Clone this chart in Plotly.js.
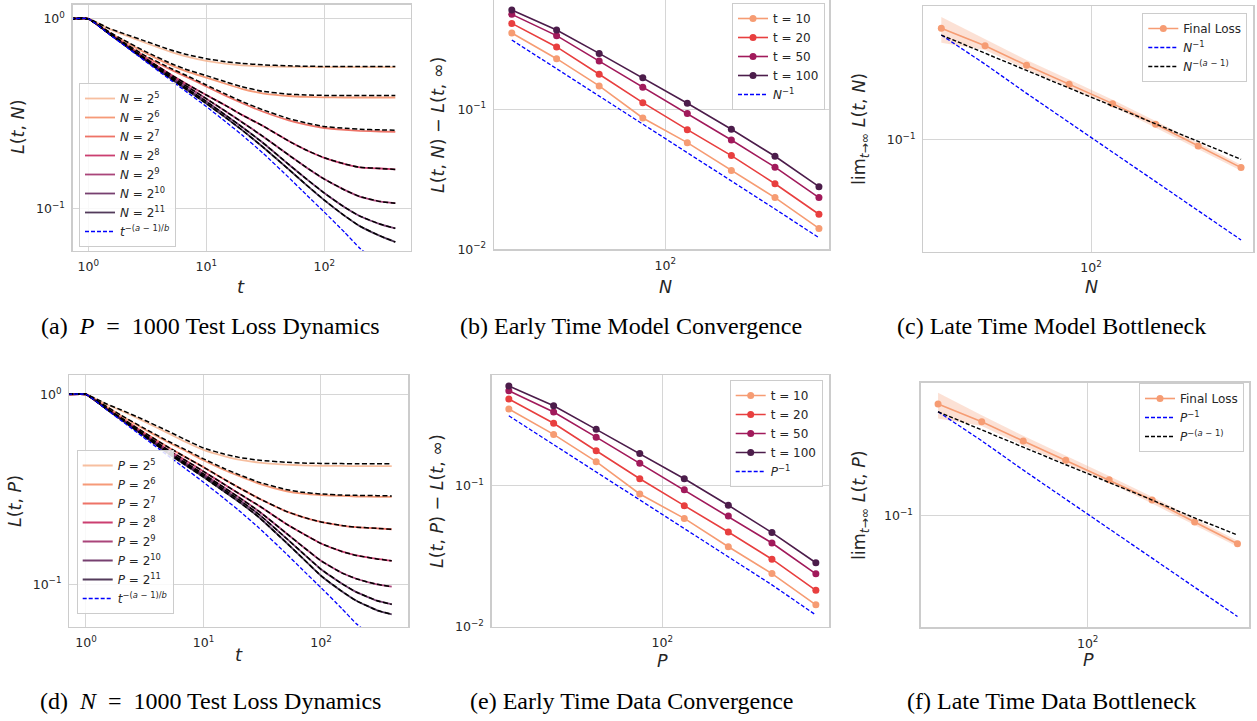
<!DOCTYPE html>
<html>
<head>
<meta charset="utf-8">
<script src="https://cdn.plot.ly/plotly-3.0.1.min.js"></script>
<style>html,body{margin:0;padding:0;background:#fff;}#chart{width:1257px;height:721px;}</style>
</head>
<body>
<div id="chart"></div>
<script>
// ---------------- DATA ----------------
// Panels (a)/(d): time grid
const tGrid = [0.7, 1, 1.5, 2, 3, 5, 7, 10, 15, 20, 30, 50, 70, 100, 150, 200, 300, 400];
const sizeLabels = ['5', '6', '7', '8', '9', '10', '11'];

// (a) P = 1000, varying N : simulated loss
const lossA_N5  = [1,1,0.885,0.825,0.75,0.67,0.63,0.6,0.578,0.568,0.561,0.558,0.557,0.557,0.557,0.557,0.557,0.557];
const lossA_N6  = [1,1,0.85,0.765,0.665,0.57,0.525,0.49,0.452,0.428,0.405,0.392,0.388,0.386,0.385,0.385,0.385,0.385];
const lossA_N7  = [1,1,0.842,0.745,0.635,0.54,0.49,0.44,0.39,0.36,0.325,0.292,0.277,0.266,0.26,0.257,0.255,0.254];
const lossA_N8  = [1,1,0.838,0.739,0.623,0.508,0.449,0.397,0.346,0.312,0.2735,0.227,0.2037,0.1854,0.1718,0.1652,0.1628,0.161];
const lossA_N9  = [1,1,0.836,0.736,0.617,0.4985,0.437,0.3795,0.322,0.286,0.241,0.1916,0.1655,0.1432,0.1252,0.1158,0.109,0.1069];
const lossA_N10 = [1,1,0.835,0.734,0.612,0.491,0.426,0.367,0.307,0.27,0.223,0.171,0.144,0.121,0.1015,0.0915,0.0828,0.0788];
const lossA_N11 = [1,1,0.834,0.732,0.608,0.484,0.418,0.358,0.298,0.26,0.212,0.161,0.134,0.111,0.0914,0.081,0.0717,0.0668];
// (a) theory curves (black dashed)
const theoryA_N5  = [1,1,0.89,0.835,0.765,0.685,0.646,0.616,0.593,0.582,0.572,0.565,0.562,0.561,0.56,0.56,0.56,0.56];
const theoryA_N6  = [1,1,0.853,0.772,0.676,0.582,0.537,0.502,0.463,0.439,0.415,0.401,0.397,0.395,0.394,0.394,0.394,0.394];
const theoryA_N7  = [1,1,0.845,0.75,0.642,0.548,0.498,0.448,0.398,0.367,0.332,0.298,0.283,0.271,0.265,0.262,0.26,0.259];
const theoryA_N8  = [1,1,0.838,0.739,0.623,0.508,0.449,0.397,0.346,0.312,0.2735,0.227,0.2037,0.1854,0.1718,0.1652,0.1628,0.161];
const theoryA_N9  = [1,1,0.836,0.736,0.617,0.4985,0.437,0.3795,0.322,0.286,0.241,0.1916,0.1655,0.1432,0.1252,0.1158,0.109,0.1069];
const theoryA_N10 = [1,1,0.835,0.734,0.612,0.491,0.426,0.367,0.307,0.27,0.223,0.171,0.144,0.121,0.1015,0.0915,0.0828,0.0788];
const theoryA_N11 = [1,1,0.834,0.732,0.608,0.484,0.418,0.358,0.298,0.26,0.212,0.161,0.134,0.111,0.0914,0.081,0.0717,0.0668];
// power law t^{-(a-1)/b} (blue dashed)
const powerT = [1,1,0.83,0.727,0.602,0.475,0.407,0.345,0.283,0.245,0.197,0.146,0.119,0.096,0.0747,0.062,0.0507,0.0412];

// (d) N = 1000, varying P
const lossD_P5  = [1,1,0.885,0.82,0.73,0.625,0.563,0.51,0.473,0.453,0.437,0.427,0.423,0.421,0.42,0.419,0.419,0.419];
const lossD_P6  = [1,1,0.86,0.77,0.665,0.56,0.505,0.45,0.4,0.372,0.338,0.31,0.3,0.295,0.292,0.29,0.289,0.289];
const lossD_P7  = [1,1,0.846,0.752,0.64,0.527,0.468,0.414,0.357,0.323,0.282,0.243,0.226,0.213,0.204,0.2,0.197,0.195];
const lossD_P8  = [1,1,0.84,0.744,0.628,0.51,0.45,0.393,0.336,0.301,0.258,0.209,0.185,0.164,0.149,0.142,0.136,0.133];
const lossD_P9  = [1,1,0.838,0.741,0.622,0.5,0.438,0.381,0.323,0.287,0.241,0.187,0.158,0.133,0.115,0.107,0.1,0.0972];
const lossD_P10 = [1,1,0.837,0.738,0.618,0.494,0.431,0.374,0.315,0.279,0.232,0.176,0.146,0.12,0.101,0.091,0.082,0.0785];
const lossD_P11 = [1,1,0.836,0.736,0.614,0.489,0.425,0.367,0.308,0.272,0.224,0.167,0.137,0.111,0.092,0.082,0.073,0.0695];
const theoryD_P5  = [1,1,0.89,0.828,0.742,0.64,0.578,0.522,0.485,0.466,0.45,0.439,0.435,0.433,0.432,0.431,0.431,0.431];
const theoryD_P6  = [1,1,0.863,0.775,0.672,0.567,0.512,0.458,0.407,0.378,0.344,0.316,0.305,0.299,0.295,0.294,0.293,0.292];
const theoryD_P7  = [1,1,0.846,0.752,0.64,0.527,0.468,0.414,0.357,0.323,0.282,0.243,0.226,0.213,0.204,0.2,0.197,0.195];
const theoryD_P8  = [1,1,0.84,0.744,0.628,0.51,0.45,0.393,0.336,0.301,0.258,0.209,0.185,0.164,0.149,0.142,0.136,0.133];
const theoryD_P9  = [1,1,0.838,0.741,0.622,0.5,0.438,0.381,0.323,0.287,0.241,0.187,0.158,0.133,0.115,0.107,0.1,0.0972];
const theoryD_P10 = [1,1,0.837,0.738,0.618,0.494,0.431,0.374,0.315,0.279,0.232,0.176,0.146,0.12,0.101,0.091,0.082,0.0785];
const theoryD_P11 = [1,1,0.836,0.736,0.614,0.489,0.425,0.367,0.308,0.272,0.224,0.167,0.137,0.111,0.092,0.082,0.073,0.0695];

// Panels (b),(c),(e),(f): model / data sizes
const sizes = [20, 32, 50, 79, 126, 200, 316, 501];
const timeLabels = ['10', '20', '50', '100'];
// (b) L(t,N) - L(t,inf)
const gapB_t10  = [0.351,0.230,0.147,0.0867,0.0578,0.0365,0.0234,0.0141];
const gapB_t20  = [0.411,0.279,0.178,0.1116,0.0716,0.0467,0.0294,0.0178];
const gapB_t50  = [0.477,0.336,0.221,0.1436,0.0932,0.0604,0.0386,0.0234];
const gapB_t100 = [0.513,0.369,0.251,0.168,0.1104,0.0720,0.0462,0.0280];
const invB      = [0.313,0.195,0.124,0.078,0.049,0.031,0.0194,0.0121];
// (e) L(t,P) - L(t,inf)
const gapE_t10  = [0.350,0.231,0.148,0.0873,0.0586,0.0369,0.0238,0.0143];
const gapE_t20  = [0.412,0.277,0.177,0.112,0.0722,0.0469,0.0301,0.0181];
const gapE_t50  = [0.472,0.333,0.221,0.144,0.0937,0.0610,0.0392,0.0237];
const gapE_t100 = [0.509,0.369,0.251,0.169,0.112,0.0726,0.0465,0.0284];
const invE      = [0.313,0.196,0.125,0.079,0.0496,0.0313,0.0198,0.0121];
// (c) final loss vs N
const finalC    = [0.578,0.440,0.323,0.240,0.177,0.128,0.091,0.0648];
const finalC_hi = [0.69,0.486,0.351,0.259,0.188,0.135,0.0959,0.0679];
const finalC_lo = [0.46,0.411,0.303,0.228,0.169,0.121,0.0864,0.0618];
const invC      = [0.52,0.329,0.208,0.132,0.0826,0.052,0.0329,0.0208];
const powC      = [0.52,0.393,0.298,0.226,0.171,0.129,0.0977,0.0738];
// (f) final loss vs P
const finalF    = [0.580,0.438,0.324,0.239,0.176,0.128,0.0906,0.0644];
const finalF_hi = [0.692,0.485,0.352,0.258,0.187,0.135,0.0955,0.0676];
const finalF_lo = [0.462,0.41,0.302,0.227,0.168,0.121,0.086,0.0615];
const invF      = [0.513,0.325,0.205,0.130,0.0815,0.0513,0.0325,0.0205];
const powF      = [0.513,0.388,0.294,0.223,0.169,0.128,0.0966,0.0738];

// ---------------- STYLE ----------------
const W = 1257, H = 721;
const FONT = 'DejaVu Sans';
const TXT = '#262626';
const sizeColors = ['#f6b48f', '#f58860', '#eb5a4c', '#c21d57', '#9b2563', '#5f1f57', '#35193e'];
const timeColors = ['#f69c73', '#e83f3f', '#a11a5b', '#4c1d4b'];
const lossColor = '#f69c73';

function xd(l, r) { return [l / W, r / W]; }
function yd(t, b) { return [1 - b / H, 1 - t / H]; }

function axis(domain, range, vals, texts, anchor) {
  return {
    type: 'log', domain: domain, range: range, anchor: anchor,
    tickvals: vals, ticktext: texts,
    showgrid: true, gridcolor: '#d6d6d6', gridwidth: 1,
    showline: true, mirror: true, linecolor: '#cccccc', linewidth: 1.3,
    zeroline: false, ticks: 'outside', ticklen: 4, tickcolor: 'rgba(0,0,0,0)',
    tickfont: { family: FONT, size: 12.5, color: TXT }, fixedrange: true
  };
}
const e0 = '10<sup>0</sup>', e1 = '10<sup>1</sup>', e2 = '10<sup>2</sup>', em1 = '10<sup>\u22121</sup>', em2 = '10<sup>\u22122</sup>';

const traces = [];
// ---- (a) and (d)
function dynamicsPanel(xa, ya, leg, letter, lossSets, theorySets) {
  lossSets.forEach((ys, i) => {
    traces.push({ x: tGrid, y: ys, xaxis: xa, yaxis: ya, legend: leg, mode: 'lines',
      name: '<i>' + letter + '</i> = 2<sup>' + sizeLabels[i] + '</sup>',
      line: { color: sizeColors[i], width: 1.8, shape: 'spline', smoothing: 0.4 }, opacity: 0.85 });
  });
  theorySets.forEach((ys) => {
    traces.push({ x: tGrid, y: ys, xaxis: xa, yaxis: ya, legend: leg, mode: 'lines', showlegend: false,
      line: { color: '#000000', width: 1.5, dash: '5px,2.5px', shape: 'spline', smoothing: 0.4 } });
  });
  traces.push({ x: tGrid, y: powerT, xaxis: xa, yaxis: ya, legend: leg, mode: 'lines',
    name: '<i>t</i><sup>\u2212(<i>a</i> \u2212 1)/<i>b</i></sup>',
    line: { color: '#0000ff', width: 1.3, dash: '4px,2px', shape: 'spline', smoothing: 0.4 } });
}
dynamicsPanel('x', 'y', 'legend', 'N',
  [lossA_N5, lossA_N6, lossA_N7, lossA_N8, lossA_N9, lossA_N10, lossA_N11],
  [theoryA_N5, theoryA_N6, theoryA_N7, theoryA_N8, theoryA_N9, theoryA_N10, theoryA_N11]);
dynamicsPanel('x4', 'y4', 'legend4', 'P',
  [lossD_P5, lossD_P6, lossD_P7, lossD_P8, lossD_P9, lossD_P10, lossD_P11],
  [theoryD_P5, theoryD_P6, theoryD_P7, theoryD_P8, theoryD_P9, theoryD_P10, theoryD_P11]);

// ---- (b) and (e)
function gapPanel(xa, ya, leg, letter, sets, inv) {
  sets.forEach((ys, i) => {
    traces.push({ x: sizes, y: ys, xaxis: xa, yaxis: ya, legend: leg, mode: 'lines+markers',
      name: 't = ' + timeLabels[i],
      line: { color: timeColors[i], width: 1.6 }, marker: { color: timeColors[i], size: 7 } });
  });
  traces.push({ x: sizes, y: inv, xaxis: xa, yaxis: ya, legend: leg, mode: 'lines',
    name: '<i>' + letter + '</i><sup>\u22121</sup>',
    line: { color: '#0000ff', width: 1.3, dash: '4px,2px' } });
}
gapPanel('x2', 'y2', 'legend2', 'N', [gapB_t10, gapB_t20, gapB_t50, gapB_t100], invB);
gapPanel('x5', 'y5', 'legend5', 'P', [gapE_t10, gapE_t20, gapE_t50, gapE_t100], invE);

// ---- (c) and (f)
function finalPanel(xa, ya, leg, letter, mid, hi, lo, inv, pw) {
  traces.push({ x: sizes, y: hi, xaxis: xa, yaxis: ya, legend: leg, mode: 'lines', showlegend: false,
    line: { width: 0, color: 'rgba(0,0,0,0)' } });
  traces.push({ x: sizes, y: lo, xaxis: xa, yaxis: ya, legend: leg, mode: 'lines', showlegend: false,
    fill: 'tonexty', fillcolor: 'rgba(246,156,115,0.3)', line: { width: 0, color: 'rgba(0,0,0,0)' } });
  traces.push({ x: sizes, y: mid, xaxis: xa, yaxis: ya, legend: leg, mode: 'lines+markers', name: 'Final Loss',
    line: { color: lossColor, width: 1.6 }, marker: { color: lossColor, size: 7 } });
  traces.push({ x: sizes, y: inv, xaxis: xa, yaxis: ya, legend: leg, mode: 'lines',
    name: '<i>' + letter + '</i><sup>\u22121</sup>', line: { color: '#0000ff', width: 1.3, dash: '4px,2px' } });
  traces.push({ x: sizes, y: pw, xaxis: xa, yaxis: ya, legend: leg, mode: 'lines',
    name: '<i>' + letter + '</i><sup>\u2212(<i>a</i> \u2212 1)</sup>', line: { color: '#000000', width: 1.4, dash: '4px,2px' } });
}
finalPanel('x3', 'y3', 'legend3', 'N', finalC, finalC_hi, finalC_lo, invC, powC);
finalPanel('x6', 'y6', 'legend6', 'P', finalF, finalF_hi, finalF_lo, invF, powF);

// ---------------- LAYOUT ----------------
function legendBox(x, y, xanchor) {
  return { x: x, y: y, xanchor: xanchor, yanchor: 'top', xref: 'paper', yref: 'paper',
    bgcolor: 'rgba(255,255,255,0.85)', bordercolor: '#cccccc', borderwidth: 1,
    font: { family: FONT, size: 12, color: TXT }, tracegroupgap: 0, itemwidth: 30, traceorder: 'normal' };
}
function label(text, x, y, size, angle, family, color) {
  return { text: text, x: x / W, y: 1 - y / H, xref: 'paper', yref: 'paper', showarrow: false,
    xanchor: 'center', yanchor: 'middle', textangle: angle || 0,
    font: { family: family || FONT, size: size, color: color || TXT } };
}
const S2 = '\u00a0\u00a0';
const CAP = 'Liberation Serif';
const CAPSIZE = 24;

const layout = {
  width: W, height: H, margin: { l: 0, r: 0, t: 0, b: 0 },
  paper_bgcolor: '#ffffff', plot_bgcolor: '#ffffff', showlegend: true,
  xaxis:  axis(xd(72.7, 411), [-0.132, 2.735], [1, 10, 100], [e0, e1, e2], 'y'),
  yaxis:  axis(yd(4.5, 250.7), [-1.221, 0.075], [0.1, 1], [em1, e0], 'x'),
  xaxis2: axis(xd(494, 829.3), [1.22, 2.747], [100], [e2], 'y2'),
  yaxis2: axis(yd(0, 249.3), [-2.0, -0.219], [0.01, 0.1], [em2, em1], 'x2'),
  xaxis3: axis(xd(923.3, 1253.3), [1.217, 2.757], [100], [e2], 'y3'),
  yaxis3: axis(yd(6, 251.7), [-1.762, -0.086], [0.1], [em1], 'x3'),
  xaxis4: axis(xd(69.3, 408.3), [-0.142, 2.743], [1, 10, 100], [e0, e1, e2], 'y4'),
  yaxis4: axis(yd(375, 626.7), [-1.223, 0.102], [0.1, 1], [em1, e0], 'x4'),
  xaxis5: axis(xd(491.7, 829.3), [1.223, 2.761], [100], [e2], 'y5'),
  yaxis5: axis(yd(375, 626.7), [-2.0, -0.215], [0.01, 0.1], [em2, em1], 'x5'),
  xaxis6: axis(xd(920.7, 1249.3), [1.22, 2.755], [100], [e2], 'y6'),
  yaxis6: axis(yd(382.7, 627.3), [-1.762, -0.0915], [0.1], [em1], 'x6'),
  legend:  legendBox(79 / W, 1 - 83 / H, 'left'),
  legend2: legendBox(825 / W, 1 - 3 / H, 'right'),
  legend3: legendBox(1247.3 / W, 1 - 13 / H, 'right'),
  legend4: legendBox(76.7 / W, 1 - 450 / H, 'left'),
  legend5: legendBox(822.7 / W, 1 - 380 / H, 'right'),
  legend6: legendBox(1244 / W, 1 - 383 / H, 'right'),
  annotations: [
    label('<i>L</i>(<i>t</i>, <i>N</i>)', 18, 127, 17.5, -90),
    label('<i>t</i>', 241, 286, 18),
    label('<i>L</i>(<i>t</i>, <i>N</i>) \u2212 <i>L</i>(<i>t</i>, \u221e)', 438, 125, 17.5, -90),
    label('<i>N</i>', 665, 287, 17.5),
    label('lim<sub><i>t</i>\u2192\u221e</sub> <i>L</i>(<i>t</i>, <i>N</i>)', 860, 129, 17.5, -90),
    label('<i>N</i>', 1091, 287, 17.5),
    label('<i>L</i>(<i>t</i>, <i>P</i>)', 15, 501, 17.5, -90),
    label('<i>t</i>', 239, 654, 18),
    label('<i>L</i>(<i>t</i>, <i>P</i>) \u2212 <i>L</i>(<i>t</i>, \u221e)', 437, 501, 17.5, -90),
    label('<i>P</i>', 662, 661, 17.5),
    label('lim<sub><i>t</i>\u2192\u221e</sub> <i>L</i>(<i>t</i>, <i>P</i>)', 860, 505, 17.5, -90),
    label('<i>P</i>', 1088, 660, 17.5),
    label('(a)' + S2 + '<i>P</i>' + S2 + '=' + S2 + '1000 Test Loss Dynamics', 210, 326, CAPSIZE, 0, CAP, '#000'),
    label('(b) Early Time Model Convergence', 631, 326, CAPSIZE, 0, CAP, '#000'),
    label('(c) Late Time Model Bottleneck', 1051, 326, CAPSIZE, 0, CAP, '#000'),
    label('(d)' + S2 + '<i>N</i>' + S2 + '=' + S2 + '1000 Test Loss Dynamics', 210, 701, CAPSIZE, 0, CAP, '#000'),
    label('(e) Early Time Data Convergence', 631, 701, CAPSIZE, 0, CAP, '#000'),
    label('(f) Late Time Data Bottleneck', 1051, 701, CAPSIZE, 0, CAP, '#000')
  ]
};

Plotly.newPlot('chart', traces, layout, { displayModeBar: false, staticPlot: true });
</script>
</body>
</html>
